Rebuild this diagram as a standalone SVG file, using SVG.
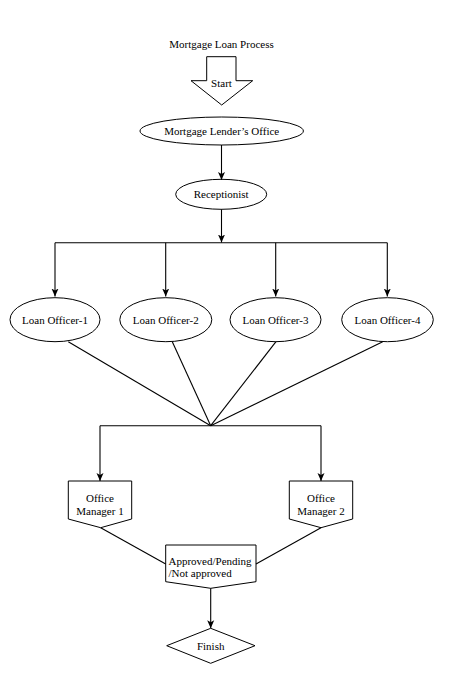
<svg xmlns="http://www.w3.org/2000/svg" width="450" height="685" viewBox="0 0 450 685">
<defs>
<marker id="ah" markerWidth="8" markerHeight="8" viewBox="0 0 8 8" refX="8" refY="4" orient="auto" markerUnits="userSpaceOnUse">
<path d="M0,0.5 L8,4 L0,7.5 L2,4 Z" fill="#000"/>
</marker>
</defs>
<style>
text{font-family:"Liberation Serif","Times New Roman",serif;font-size:11px;fill:#000}
.s{fill:#fff;stroke:#000;stroke-width:1}
.c{fill:none;stroke:#000;stroke-width:1.1}
.a{marker-end:url(#ah)}
</style>
<rect width="450" height="685" fill="#fff"/>
<text x="221.5" y="48" text-anchor="middle">Mortgage Loan Process</text>
<g id="start">
<path class="s" d="M206.7,56.7 H236 V80.7 H252.7 L221.7,105 L191,80.7 H206.7 Z"/>
<text x="221.5" y="87" text-anchor="middle">Start</text>
</g>
<g id="lender">
<ellipse class="s" cx="221.7" cy="131" rx="81.7" ry="14"/>
<text x="221.7" y="135" text-anchor="middle">Mortgage Lender’s Office</text>
</g>
<g id="receptionist">
<ellipse class="s" cx="221.2" cy="194.3" rx="45.5" ry="15"/>
<text x="221.2" y="198.3" text-anchor="middle">Receptionist</text>
</g>
<g id="lo1">
<ellipse class="s" cx="55" cy="319.7" rx="45" ry="22"/>
<text x="55" y="323.7" text-anchor="middle">Loan Officer-1</text>
</g>
<g id="lo2">
<ellipse class="s" cx="165.8" cy="319.7" rx="46" ry="22"/>
<text x="165.8" y="323.7" text-anchor="middle">Loan Officer-2</text>
</g>
<g id="lo3">
<ellipse class="s" cx="275.5" cy="319.7" rx="45.5" ry="22"/>
<text x="275.5" y="323.7" text-anchor="middle">Loan Officer-3</text>
</g>
<g id="lo4">
<ellipse class="s" cx="387.5" cy="319.7" rx="45.8" ry="22"/>
<text x="387.5" y="323.7" text-anchor="middle">Loan Officer-4</text>
</g>
<g id="om1">
<path class="s" d="M68.3,481 H131.7 V519 L100.7,527.7 L68.3,519 Z"/>
<text x="100" y="502" text-anchor="middle">Office</text>
<text x="100" y="514.5" text-anchor="middle">Manager 1</text>
</g>
<g id="om2">
<path class="s" d="M289.3,481 H352.7 V519 L321,527.7 L289.3,519 Z"/>
<text x="321" y="502" text-anchor="middle">Office</text>
<text x="321" y="514.5" text-anchor="middle">Manager 2</text>
</g>
<g id="decision">
<path class="s" d="M165.7,545 H256 V581.7 L210.7,588.3 L165.7,581.7 Z"/>
<text x="168.5" y="564.5">Approved/Pending</text>
<text x="168.5" y="577">/Not approved</text>
</g>
<g id="finish">
<path class="s" d="M210.7,628.3 L255,645.7 L210.7,663.3 L166.7,645.7 Z"/>
<text x="210.7" y="649.5" text-anchor="middle">Finish</text>
</g>
<g id="connectors">
<path class="c a" d="M221.5,145 V180"/>
<path class="c a" d="M221.5,209.3 V242.5"/>
<path class="c" d="M55,242.7 H387.3"/>
<path class="c a" d="M55,242.7 V296.5"/>
<path class="c a" d="M165.7,242.7 V296.5"/>
<path class="c a" d="M275.7,242.7 V296.5"/>
<path class="c a" d="M387.3,242.7 V296.5"/>
<path class="c" d="M68.3,341.7 L210.7,425.7"/>
<path class="c" d="M172.3,341.7 L210.7,425.7"/>
<path class="c" d="M276,341.7 L210.7,425.7"/>
<path class="c" d="M382.7,341.7 L210.7,425.7"/>
<path class="c" d="M100,425.7 H321"/>
<path class="c a" d="M100,425.7 V481"/>
<path class="c a" d="M321,425.7 V481"/>
<path class="c" d="M100.7,527.7 L165.7,564"/>
<path class="c" d="M321,527.7 L256,564"/>
<path class="c a" d="M210.7,588.3 V628.3"/>
</g>
</svg>
